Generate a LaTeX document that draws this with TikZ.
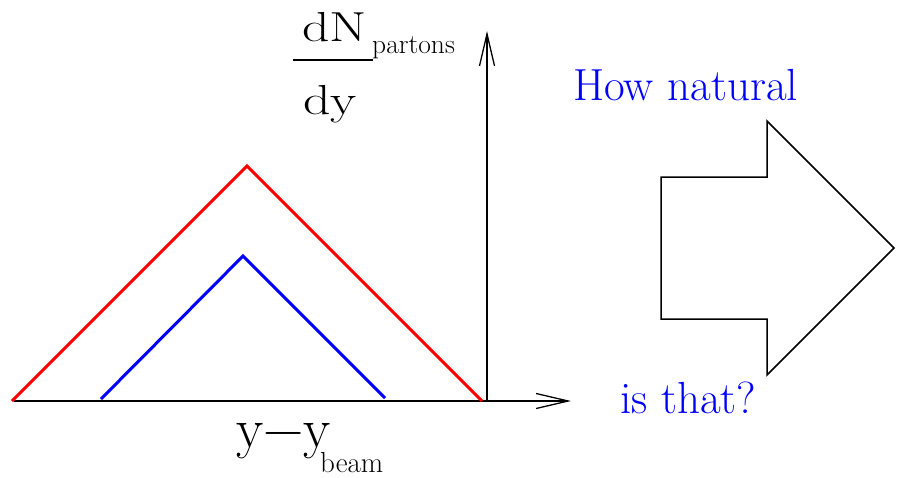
\documentclass[tikz,border=0pt]{standalone}
\usepackage{fontspec}
\usetikzlibrary{arrows.meta}
\begin{document}
\begin{tikzpicture}[x=1pt,y=-1pt,
  axis/.style={line width=1.3pt,-{Straight Barb[length=32pt,width=15pt,line width=1.3pt]}},
  curve/.style={line width=3pt,line join=miter},
  bigarrow/.style={line width=1.5pt,line join=miter},
  lbl/.style={inner sep=0pt,anchor=base west},
  bluetext/.style={lbl,text=blue,font=\fontsize{45}{50}\selectfont}]
\useasboundingbox (0,0) rectangle (900,477);
% axes
\coordinate (o) at (487,401);
\coordinate (xs) at (14,401);
\coordinate (xe) at (571,401);
\coordinate (ye) at (487,31);
\draw[axis] (xs) -- (xe);
\draw[axis] (o) -- (ye);
% curves
\coordinate (r1) at (12,401);
\coordinate (r2) at (247,166);
\coordinate (r3) at (482,401);
\draw[curve,red] (r1) -- (r2) -- (r3);
\coordinate (b1) at (101,399);
\coordinate (b2) at (243,256);
\coordinate (b3) at (385,398);
\draw[curve,blue] (b1) -- (b2) -- (b3);
% big arrow
\draw[bigarrow] (661,177) -- (767,177) -- (767,121) -- (894,248) -- (767,375) -- (767,319) -- (661,319) -- cycle;
% labels
\node[bluetext] (how) at (573,100) {How natural};
\node[bluetext] (that) at (620,413) {is that?};
\node[lbl,font=\fontsize{42}{46}\selectfont] (dn) at (302,41) {\scalebox{1.28}[1]{dN}};
\node[lbl,font=\fontsize{27.5}{32}\selectfont] (part) at (372,53) {partons};
\draw[line width=2pt] (293,60) -- (373,60);
\node[lbl,font=\fontsize{42}{46}\selectfont] (dy) at (303,114) {\scalebox{1.28}[1]{dy}};
\node[lbl,font=\fontsize{56}{62}\selectfont] (yy) at (236,447) {y−y};
\node[lbl,font=\fontsize{29}{34}\selectfont] (beam) at (320,472) {beam};
\end{tikzpicture}
\end{document}
